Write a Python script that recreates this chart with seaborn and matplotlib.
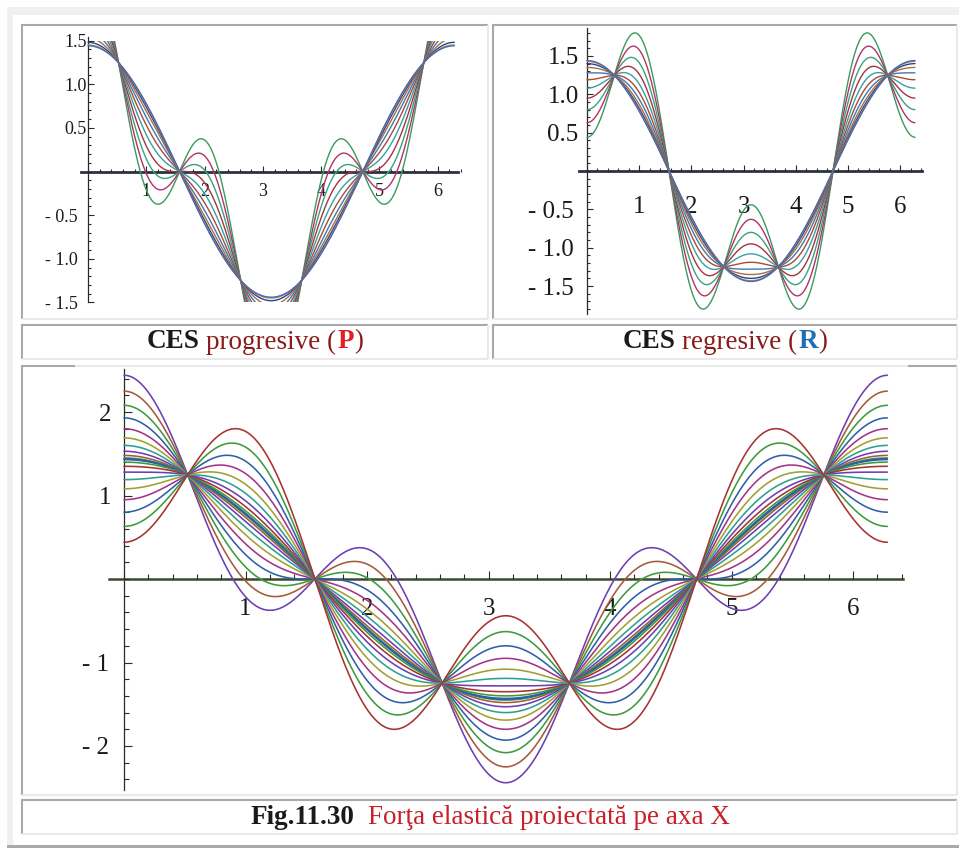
import numpy as np
import pandas as pd
import matplotlib
matplotlib.use("Agg")
import matplotlib.pyplot as plt
import seaborn as sns
from matplotlib.ticker import MultipleLocator, FixedLocator, FixedFormatter
from matplotlib.lines import Line2D
from matplotlib.patches import Rectangle
from matplotlib.transforms import ScaledTranslation

sns.set_theme(style="white")
plt.rcParams["font.family"] = ["Liberation Serif", "DejaVu Serif"]

W, H = 961, 848

# ---------------- data ----------------
# F(x) = base_amp*cos(x) + k*cos(3x) for each coefficient k of the family
base_amp = 1.44
prog_coef = [1.00, 0.81, 0.64, 0.49, 0.36, 0.25, 0.16, 0.09, 0.04, 0.01, 0.00]
regr_coef = [-1.00, -0.81, -0.64, -0.49, -0.36, -0.25, -0.16, -0.09, -0.04, -0.01, 0.00]
all_coef = [1.00, 0.81, 0.64, 0.49, 0.36, 0.25, 0.16, 0.09, 0.04, 0.01, 0.00,
            -0.01, -0.04, -0.09, -0.16, -0.25, -0.36, -0.49, -0.64, -0.81, -1.00]

small_colors = ["#3a9a5c", "#b0336c", "#38a27e", "#a3343f", "#35a0a8", "#a94a34",
                "#3f78b6", "#a8713a", "#2d3e9e", "#a59b35", "#4f66b0"]
PU, BR, GR, BL, MA, OL, TE, RE = ("#6d3fb0", "#a55a3a", "#3d9a3d", "#2f5fa8",
                                  "#a23487", "#a0a032", "#2f9f90", "#a83232")
big_colors = [PU, BR, GR, BL, MA, OL, TE, PU, BR, GR, BL,
              BL, GR, RE, PU, TE, OL, MA, BL, GR, RE]

small_yticks = [-1.5, -1.0, -0.5, 0.5, 1.0, 1.5]
small_ylabels = ["- 1.5", "- 1.0", "- 0.5", "0.5", "1.0", "1.5"]
big_yticks = [-2, -1, 1, 2]
big_ylabels = ["- 2", "- 1", "1", "2"]
xticks = [1, 2, 3, 4, 5, 6]
xlabels = ["1", "2", "3", "4", "5", "6"]

caption_p = [("CES", "#1a1a1a", "bold"), ("progresive (", "#8b1c1c", "normal"),
             ("P", "#e31e24", "bold"), (")", "#8b1c1c", "normal")]
caption_r = [("CES", "#1a1a1a", "bold"), ("regresive (", "#8b1c1c", "normal"),
             ("R", "#1f6fb5", "bold"), (")", "#8b1c1c", "normal")]
caption_fig = [("Fig.11.30", "#1a1a1a", "bold"),
               ("Forţa elastică proiectată pe axa X", "#c8202a", "normal")]

x = np.linspace(0, 2 * np.pi, 1500)


def family_frame(coefs):
    parts = []
    for i, k in enumerate(coefs):
        parts.append(pd.DataFrame({"x": x,
                                   "y": base_amp * np.cos(x) + k * np.cos(3 * x),
                                   "curve": f"c{i:02d}"}))
    return pd.concat(parts, ignore_index=True)


fig = plt.figure(figsize=(W / 100, H / 100), dpi=100)
fig.patch.set_facecolor("white")


def fx(px):
    return px / W


def fy(py):
    return 1 - py / H


def hline(x0, x1, y, color, lw, z=-5):
    fig.add_artist(Line2D([fx(x0), fx(x1)], [fy(y), fy(y)], transform=fig.transFigure,
                          color=color, lw=lw, zorder=z, solid_capstyle="butt"))


def vline(x, y0, y1, color, lw, z=-5):
    fig.add_artist(Line2D([fx(x), fx(x)], [fy(y0), fy(y1)], transform=fig.transFigure,
                          color=color, lw=lw, zorder=z, solid_capstyle="butt"))


def rect(x0, y0, x1, y1, color, z=-10):
    fig.add_artist(Rectangle((fx(x0), fy(y1)), fx(x1) - fx(x0), fy(y0) - fy(y1),
                             transform=fig.transFigure, facecolor=color,
                             edgecolor="none", zorder=z))


DARK, LIGHT = "#a9a9ab", "#e9e9eb"


def cell(x0, y0, x1, y1, top_gap=None):
    if top_gap is None:
        hline(x0, x1, y0, DARK, 1.5)
    else:
        hline(x0, top_gap[0], y0, DARK, 1.5)
        hline(top_gap[0], top_gap[1], y0, LIGHT, 1.5)
        hline(top_gap[1], x1, y0, DARK, 1.5)
    vline(x0, y0 - 0.7, y1, DARK, 1.5)
    hline(x0, x1, y1, LIGHT, 1.5)
    vline(x1, y0, y1, LIGHT, 1.5)


# outer table frame
rect(7, 7, 959, 15, "#eef0f2")
rect(7, 7, 13, 845, "#eef0f2")
rect(7, 844.5, 959, 847.5, "#aaaaac", z=-9)

cell(22, 25, 488, 319)
cell(493, 25, 957, 319)
cell(22, 325, 488, 359)
cell(493, 325, 957, 359)
cell(22, 366, 957, 795, top_gap=(75, 908))
cell(22, 800, 957, 834)


def data_axes(x0, sx, y0, sy, xlim, ylim):
    left = x0 + xlim[0] * sx
    right = x0 + xlim[1] * sx
    top = y0 - ylim[1] * sy
    bottom = y0 - ylim[0] * sy
    ax = fig.add_axes([fx(left), fy(bottom), (right - left) / W, (bottom - top) / H])
    ax.set_xlim(*xlim)
    ax.set_ylim(*ylim)
    ax.patch.set_alpha(0)
    return ax


def style_axes(ax, xb, yb, ymaj, ylab, ymin, fs, xpad, ypad, neg_shift,
               maj_len, min_len, xcolor, xlw):
    ax.set_xlabel("")
    ax.set_ylabel("")
    ax.grid(False)
    for s in ("top", "right"):
        ax.spines[s].set_visible(False)
    ax.spines["left"].set_position(("data", 0))
    ax.spines["bottom"].set_position(("data", 0))
    ax.spines["left"].set_bounds(*yb)
    ax.spines["bottom"].set_bounds(*xb)
    ax.spines["left"].set_color("#2a2a2a")
    ax.spines["left"].set_linewidth(0.9)
    ax.spines["bottom"].set_color(xcolor)
    ax.spines["bottom"].set_linewidth(xlw)
    ax.spines["left"].set_zorder(0.5)
    ax.spines["bottom"].set_zorder(0.5)
    ax.xaxis.set_major_locator(FixedLocator(xticks))
    ax.xaxis.set_major_formatter(FixedFormatter(xlabels))
    ax.xaxis.set_minor_locator(MultipleLocator(0.2))
    ax.yaxis.set_major_locator(FixedLocator(ymaj))
    ax.yaxis.set_major_formatter(FixedFormatter(ylab))
    ax.yaxis.set_minor_locator(MultipleLocator(ymin))
    ax.tick_params(which="both", direction="in", color="#2a2a2a", width=0.8,
                   labelsize=fs, labelcolor="#1a1a1a")
    ax.tick_params(which="major", length=maj_len)
    ax.tick_params(which="minor", length=min_len)
    ax.tick_params(axis="x", which="major", pad=xpad)
    ax.tick_params(axis="y", which="major", pad=ypad)
    ax.xaxis.set_ticks_position("bottom")
    ax.yaxis.set_ticks_position("left")
    for t, v in zip(ax.yaxis.get_major_ticks(), ymaj):
        if v < 0:
            t.label1.set_transform(t.label1.get_transform() +
                                   ScaledTranslation(-neg_shift / 100, 0, fig.dpi_scale_trans))


def draw_family(ax, coefs, colors, lw):
    df = family_frame(coefs)
    names = [f"c{i:02d}" for i in range(len(coefs))]
    sns.lineplot(data=df, x="x", y="y", hue="curve", hue_order=names,
                 palette=dict(zip(names, colors)), estimator=None, sort=False,
                 legend=False, linewidth=lw, ax=ax)


# ---------- progressive panel ----------
ax1 = data_axes(88, 58.3, 171.5, 87.3, (-0.15, 6.45), (-1.5, 1.5))
draw_family(ax1, prog_coef, small_colors, 1.0)
style_axes(ax1, (-0.12, 6.35), (-1.5, 1.54), small_yticks, small_ylabels, 0.1,
           fs=13, xpad=8.5, ypad=1, neg_shift=9, maj_len=4, min_len=2.3,
           xcolor="#2c3140", xlw=2.0)

# ---------- regressive panel ----------
ax2 = data_axes(587, 52.2, 171, 76.7, (-0.17, 6.45), (-1.87, 1.87))
draw_family(ax2, regr_coef, small_colors, 1.0)
style_axes(ax2, (-0.15, 6.42), (-1.86, 1.86), small_yticks, small_ylabels, 0.1,
           fs=18, xpad=18, ypad=6, neg_shift=5, maj_len=4, min_len=2.3,
           xcolor="#2c3140", xlw=2.0)

# ---------- combined panel ----------
ax3 = data_axes(124, 121.5, 579, 83.5, (-0.15, 6.45), (-2.54, 2.54))
draw_family(ax3, all_coef, big_colors, 1.15)
style_axes(ax3, (-0.12, 6.41), (-2.53, 2.52), big_yticks, big_ylabels, 0.2,
           fs=18, xpad=14, ypad=9, neg_shift=3, maj_len=5.5, min_len=3.5,
           xcolor="#3a4a30", xlw=1.8)


# ---------- captions ----------
def rich_caption(cx, cy, parts, size, gaps):
    renderer = fig.canvas.get_renderer()
    texts, widths = [], []
    for txt, color, weight in parts:
        t = fig.text(0, fy(cy), txt, color=color, fontweight=weight, fontsize=size,
                     ha="left", va="center")
        texts.append(t)
        widths.append(t.get_window_extent(renderer).width)
    total = sum(widths) + sum(gaps)
    xpos = cx - total / 2
    for i, t in enumerate(texts):
        t.set_x(fx(xpos))
        xpos += widths[i] + (gaps[i] if i < len(gaps) else 0)


em = 19.5 * 100 / 72
rich_caption(255, 342, caption_p, 19.5, [0.25 * em, 0.03 * em, 0.03 * em])
rich_caption(725, 342, caption_r, 19.5, [0.25 * em, 0.03 * em, 0.03 * em])
rich_caption(490, 817, caption_fig, 19.5, [0.5 * em])

fig.savefig("out.png", dpi=100, facecolor="white")
